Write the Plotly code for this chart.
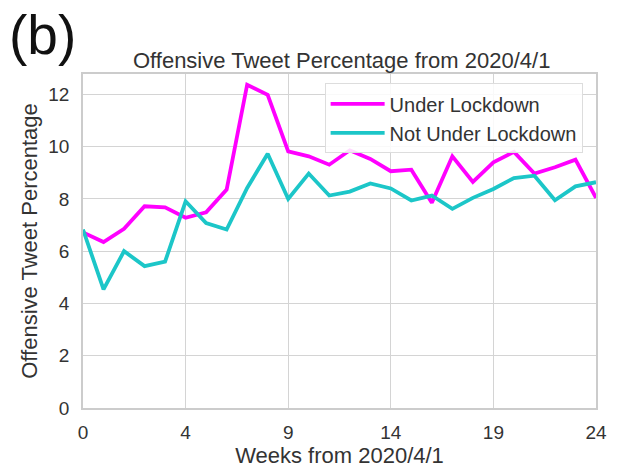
import plotly.graph_objects as go

weeks = list(range(26))
tick_pos = [0, 5, 10, 15, 20, 25]
tick_labels = ["0", "4", "9", "14", "19", "24"]

under_lockdown = [6.72, 6.35, 6.86, 7.72, 7.68, 7.28, 7.49, 8.36, 12.37, 11.98,
                  9.82, 9.63, 9.31, 9.86, 9.53, 9.06, 9.12, 7.85, 9.63, 8.65,
                  9.40, 9.80, 8.97, 9.21, 9.50, 8.04]
not_under_lockdown = [6.83, 4.54, 6.00, 5.43, 5.60, 7.91, 7.08, 6.83, 8.42, 9.73,
                      8.00, 8.97, 8.13, 8.28, 8.59, 8.40, 7.94, 8.13, 7.62, 8.04,
                      8.38, 8.80, 8.89, 7.95, 8.48, 8.64]

FONT = "Liberation Sans, Arial, sans-serif"
TXT = "#333333"

fig = go.Figure()
fig.add_trace(go.Scatter(x=weeks, y=under_lockdown, mode="lines", name="Under Lockdown",
                         line=dict(color="#ff00ff", width=3.8)))
fig.add_trace(go.Scatter(x=weeks, y=not_under_lockdown, mode="lines", name="Not Under Lockdown",
                         line=dict(color="#1cc6c8", width=3.8)))

fig.update_layout(
    width=619, height=472,
    margin=dict(l=83, r=19, t=74, b=63),
    paper_bgcolor="white", plot_bgcolor="white",
    font=dict(family=FONT, color=TXT, size=19),
    title=dict(text="Offensive Tweet Percentage from 2020/4/1", x=0.552, xanchor="center",
               y=0.873, yanchor="middle", font=dict(size=22, color=TXT)),
    showlegend=True,
    legend=dict(x=0.471, y=0.972, xanchor="left", yanchor="top",
                bgcolor="rgba(255,255,255,0.85)", bordercolor="#dddddd", borderwidth=1,
                font=dict(size=20, color=TXT), itemwidth=54, tracegroupgap=0),
    xaxis=dict(range=[0, 25], tickmode="array", tickvals=tick_pos, ticktext=tick_labels,
               showgrid=True, gridcolor="#d4d4d4", gridwidth=1.2, zeroline=False,
               showline=True, linecolor="#cccccc", linewidth=1.5, mirror=True,
               ticks="", ticklabelstandoff=6, tickfont=dict(size=19, color=TXT),
               title=dict(text="Weeks from 2020/4/1", font=dict(size=22, color=TXT), standoff=2)),
    yaxis=dict(range=[0, 12.78], tickmode="array", tickvals=[0, 2, 4, 6, 8, 10, 12],
               showgrid=True, gridcolor="#d4d4d4", gridwidth=1.2, zeroline=False,
               showline=True, linecolor="#cccccc", linewidth=1.5, mirror=True,
               ticks="", ticklabelstandoff=8, tickfont=dict(size=19, color=TXT),
               title=dict(text="Offensive Tweet Percentage", font=dict(size=22, color=TXT), standoff=5)),
)

fig.add_annotation(text="(b)", xref="paper", yref="paper", x=-0.148, y=1.118,
                   xanchor="left", yanchor="middle", showarrow=False,
                   font=dict(size=55, family=FONT, color="#111111"))

fig.write_html("out.html")
